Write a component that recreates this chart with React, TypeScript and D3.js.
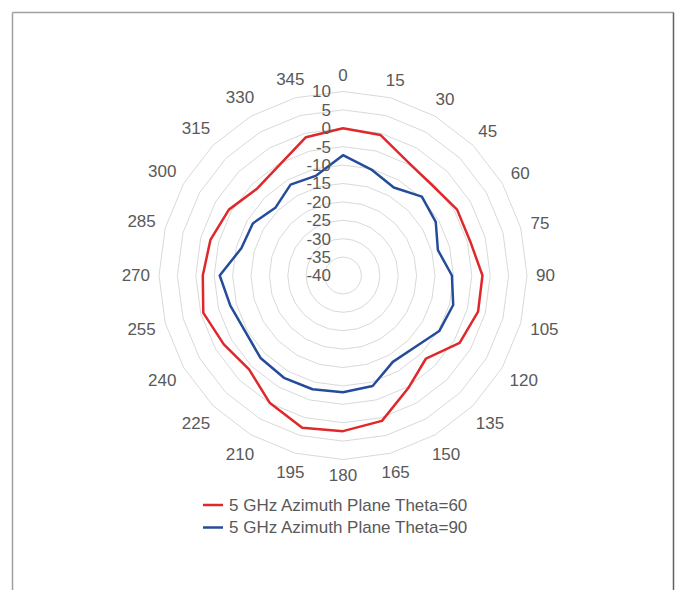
import * as d3 from "d3"

const angles = d3.range(0, 360, 15)
const radialTicks = [-40, -35, -30, -25, -20, -15, -10, -5, 0, 5, 10]

const theta60 = [0, -0.5, -4.5, -5.5, -4.2, -4.2, -2.1, -2.0, -3.4, -8.1, -4.6, 0.9, 2.3, 2.8, -0.1, -3.9, -2.6, -0.7, -1.9, -2.7, -4.2, -6.8, -5.4, -1.1]
const theta90 = [-7.3, -10.2, -12.4, -9.7, -10.9, -13.3, -10.4, -9.0, -9.8, -12.4, -12.9, -8.9, -8.3, -8.0, -7.9, -8.3, -9.4, -8.3, -6.5, -11.4, -11.7, -14.0, -11.5, -11.9]

const series = [
  { name: "5 GHz Azimuth Plane Theta=60", values: theta60, color: "#E0282B" },
  { name: "5 GHz Azimuth Plane Theta=90", values: theta90, color: "#254C9A" },
]

const width = 678
const height = 590
const cx = 343
const cy = 275.5
const R = 184
const font = "'Liberation Sans', Arial, sans-serif"
const fontSize = 17
const textColor = "#595959"

const App = () => {
  const r = d3.scaleLinear().domain([-40, 10]).range([0, R])
  const rad = (a: number) => (a * Math.PI) / 180

  const ringLine = d3
    .lineRadial<number>()
    .angle((a) => rad(a))
    .curve(d3.curveLinearClosed)

  const dataLine = d3
    .lineRadial<number>()
    .angle((_, i) => rad(angles[i]))
    .radius((v) => r(v))
    .curve(d3.curveLinearClosed)

  // label placement: nearest edge sits a fixed gap outside the outer ring
  const labelPos = (a: number, txt: string) => {
    const w = txt.length * 9.45
    const h = 14
    const s = Math.sin(rad(a))
    const c = Math.cos(rad(a))
    const d = R + 9 + (Math.abs(s) * w) / 2 + (Math.abs(c) * h) / 2
    return [cx + d * s, cy - d * c]
  }

  return (
    <svg
      width={width}
      height={height}
      style={{ position: "absolute", left: 0, top: 0, background: "#fff" }}
    >
      <line x1={12.5} y1={12.5} x2={673.5} y2={12.5} stroke="#a0a0a0" strokeWidth={1.5} />
      <line x1={12.5} y1={12.5} x2={12.5} y2={height} stroke="#a0a0a0" strokeWidth={1.5} />
      <line x1={673.5} y1={12.5} x2={673.5} y2={height} stroke="#606060" strokeWidth={1.5} />

      <g transform={`translate(${cx},${cy})`}>
        {radialTicks
          .filter((t) => t > -40)
          .map((t) => (
            <path
              key={t}
              d={ringLine.radius(r(t))(angles) || ""}
              fill="none"
              stroke="#d9d9d9"
              strokeWidth={1}
            />
          ))}
        {series.map((s) => (
          <path
            key={s.name}
            d={dataLine(s.values) || ""}
            fill="none"
            stroke={s.color}
            strokeWidth={2.5}
            strokeLinejoin="round"
          />
        ))}
        {radialTicks.map((t) => (
          <text
            key={t}
            x={-12}
            y={-r(t)}
            dy="0.35em"
            textAnchor="end"
            fontFamily={font}
            fontSize={fontSize}
            fill={textColor}
          >
            {t}
          </text>
        ))}
      </g>

      {angles.map((a) => {
        const [x, y] = labelPos(a, String(a))
        return (
          <text
            key={a}
            x={x}
            y={y}
            dy="0.35em"
            textAnchor="middle"
            fontFamily={font}
            fontSize={fontSize}
            fill={textColor}
          >
            {a}
          </text>
        )
      })}

      {series.map((s, i) => (
        <g key={s.name} transform={`translate(203,${505 + i * 22.5})`}>
          <line x1={0} x2={20} y1={0} y2={0} stroke={s.color} strokeWidth={2.5} />
          <text x={26} y={0} dy="0.35em" fontFamily={font} fontSize={fontSize} fill={textColor}>
            {s.name}
          </text>
        </g>
      ))}
    </svg>
  )
}

export default App
